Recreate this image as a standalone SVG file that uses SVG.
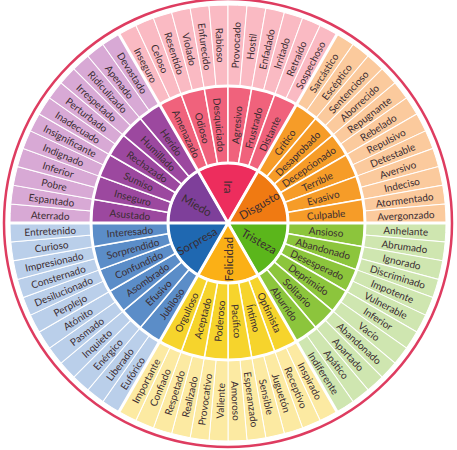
<svg xmlns="http://www.w3.org/2000/svg" width="457" height="450" viewBox="0 0 457 450">
<style>
.ira1{fill:#ED2D5D}.ira2{fill:#F0627C}.ira3{fill:#FABAC3}
.mie1{fill:#7E3F9A}.mie2{fill:#9C489F}.mie3{fill:#D8A9D5}
.dis1{fill:#F07A12}.dis2{fill:#F69C28}.dis3{fill:#FBCA9D}
.tri1{fill:#5BB61B}.tri2{fill:#8CC53C}.tri3{fill:#CFE6B0}
.fel1{fill:#FBB016}.fel2{fill:#F6D42C}.fel3{fill:#FCEAA2}
.sor1{fill:#1F68B1}.sor2{fill:#5B8DC8}.sor3{fill:#BACFEA}
.o use{stroke:#fff;stroke-width:1}
.m use{stroke:#fff;stroke-width:1.5}
.c use{stroke:#fff;stroke-width:2}
text{font-family:Lato,"Open Sans","Liberation Sans",sans-serif;font-size:10px;fill:#3a2c31;text-anchor:middle;dominant-baseline:central}
.c text{font-size:11.5px}
.sep{fill:none;stroke:#fff;stroke-width:3}
</style>
<defs>
<path id="wo" d="M137,0 L218,0 A218,218 0 0 1 217.170,19.000 L136.479,11.940 A137,137 0 0 0 137,0 Z"/>
<path id="wm" d="M60,0 L137,0 A137,137 0 0 1 134.919,23.790 L59.088,10.419 A60,60 0 0 0 60,0 Z"/>
<path id="wc" d="M0,0 L60,0 A60,60 0 0 1 30,51.962 Z"/>
</defs>
<rect width="457" height="450" fill="#fff"/>
<circle cx="228" cy="223" r="224" fill="none" stroke="#DE3C60" stroke-width="2.5"/>
<g transform="translate(228,223)">
<g class="o">
<g id="o-inseguro"><use href="#wo" class="ira3" transform="rotate(240)"/><text transform="rotate(242.5) translate(178,0) rotate(180)">Inseguro</text></g>
<g id="o-celoso"><use href="#wo" class="ira3" transform="rotate(245)"/><text transform="rotate(247.5) translate(178,0) rotate(180)">Celoso</text></g>
<g id="o-resentido"><use href="#wo" class="ira3" transform="rotate(250)"/><text transform="rotate(252.5) translate(178,0) rotate(180)">Resentido</text></g>
<g id="o-violado"><use href="#wo" class="ira3" transform="rotate(255)"/><text transform="rotate(257.5) translate(178,0) rotate(180)">Violado</text></g>
<g id="o-enfurecido"><use href="#wo" class="ira3" transform="rotate(260)"/><text transform="rotate(262.5) translate(178,0) rotate(180)">Enfurecido</text></g>
<g id="o-rabioso"><use href="#wo" class="ira3" transform="rotate(265)"/><text transform="rotate(267.5) translate(178,0) rotate(180)">Rabioso</text></g>
<g id="o-provocado"><use href="#wo" class="ira3" transform="rotate(270)"/><text transform="rotate(272.5) translate(178,0)">Provocado</text></g>
<g id="o-hostil"><use href="#wo" class="ira3" transform="rotate(275)"/><text transform="rotate(277.5) translate(178,0)">Hostil</text></g>
<g id="o-enfadado"><use href="#wo" class="ira3" transform="rotate(280)"/><text transform="rotate(282.5) translate(178,0)">Enfadado</text></g>
<g id="o-irritado"><use href="#wo" class="ira3" transform="rotate(285)"/><text transform="rotate(287.5) translate(178,0)">Irritado</text></g>
<g id="o-retraido"><use href="#wo" class="ira3" transform="rotate(290)"/><text transform="rotate(292.5) translate(178,0)">Retraído</text></g>
<g id="o-sospechoso"><use href="#wo" class="ira3" transform="rotate(295)"/><text transform="rotate(297.5) translate(178,0)">Sospechoso</text></g>
<g id="o-sarcastico"><use href="#wo" class="dis3" transform="rotate(300)"/><text transform="rotate(302.5) translate(178,0)">Sarcástico</text></g>
<g id="o-esceptico"><use href="#wo" class="dis3" transform="rotate(305)"/><text transform="rotate(307.5) translate(178,0)">Escéptico</text></g>
<g id="o-sentencioso"><use href="#wo" class="dis3" transform="rotate(310)"/><text transform="rotate(312.5) translate(178,0)">Sentencioso</text></g>
<g id="o-aborrecido"><use href="#wo" class="dis3" transform="rotate(315)"/><text transform="rotate(317.5) translate(178,0)">Aborrecido</text></g>
<g id="o-repugnante"><use href="#wo" class="dis3" transform="rotate(320)"/><text transform="rotate(322.5) translate(178,0)">Repugnante</text></g>
<g id="o-rebelado"><use href="#wo" class="dis3" transform="rotate(325)"/><text transform="rotate(327.5) translate(178,0)">Rebelado</text></g>
<g id="o-repulsivo"><use href="#wo" class="dis3" transform="rotate(330)"/><text transform="rotate(332.5) translate(178,0)">Repulsivo</text></g>
<g id="o-detestable"><use href="#wo" class="dis3" transform="rotate(335)"/><text transform="rotate(337.5) translate(178,0)">Detestable</text></g>
<g id="o-aversivo"><use href="#wo" class="dis3" transform="rotate(340)"/><text transform="rotate(342.5) translate(178,0)">Aversivo</text></g>
<g id="o-indeciso"><use href="#wo" class="dis3" transform="rotate(345)"/><text transform="rotate(347.5) translate(178,0)">Indeciso</text></g>
<g id="o-atormentado"><use href="#wo" class="dis3" transform="rotate(350)"/><text transform="rotate(352.5) translate(178,0)">Atormentado</text></g>
<g id="o-avergonzado"><use href="#wo" class="dis3" transform="rotate(355)"/><text transform="rotate(357.5) translate(178,0)">Avergonzado</text></g>
<g id="o-anhelante"><use href="#wo" class="tri3" transform="rotate(0)"/><text transform="rotate(2.5) translate(178,0)">Anhelante</text></g>
<g id="o-abrumado"><use href="#wo" class="tri3" transform="rotate(5)"/><text transform="rotate(7.5) translate(178,0)">Abrumado</text></g>
<g id="o-ignorado"><use href="#wo" class="tri3" transform="rotate(10)"/><text transform="rotate(12.5) translate(178,0)">Ignorado</text></g>
<g id="o-discriminado"><use href="#wo" class="tri3" transform="rotate(15)"/><text transform="rotate(17.5) translate(178,0)">Discriminado</text></g>
<g id="o-impotente"><use href="#wo" class="tri3" transform="rotate(20)"/><text transform="rotate(22.5) translate(178,0)">Impotente</text></g>
<g id="o-vulnerable"><use href="#wo" class="tri3" transform="rotate(25)"/><text transform="rotate(27.5) translate(178,0)">Vulnerable</text></g>
<g id="o-inferior-t"><use href="#wo" class="tri3" transform="rotate(30)"/><text transform="rotate(32.5) translate(178,0)">Inferior</text></g>
<g id="o-vacio"><use href="#wo" class="tri3" transform="rotate(35)"/><text transform="rotate(37.5) translate(178,0)">Vacío</text></g>
<g id="o-abandonado"><use href="#wo" class="tri3" transform="rotate(40)"/><text transform="rotate(42.5) translate(178,0)">Abandonado</text></g>
<g id="o-apartado"><use href="#wo" class="tri3" transform="rotate(45)"/><text transform="rotate(47.5) translate(178,0)">Apartado</text></g>
<g id="o-apatico"><use href="#wo" class="tri3" transform="rotate(50)"/><text transform="rotate(52.5) translate(178,0)">Apático</text></g>
<g id="o-indiferente"><use href="#wo" class="tri3" transform="rotate(55)"/><text transform="rotate(57.5) translate(178,0)">Indiferente</text></g>
<g id="o-inspirado"><use href="#wo" class="fel3" transform="rotate(60)"/><text transform="rotate(62.5) translate(178,0)">Inspirado</text></g>
<g id="o-receptivo"><use href="#wo" class="fel3" transform="rotate(65)"/><text transform="rotate(67.5) translate(178,0)">Receptivo</text></g>
<g id="o-jugueton"><use href="#wo" class="fel3" transform="rotate(70)"/><text transform="rotate(72.5) translate(178,0)">Juguetón</text></g>
<g id="o-sensible"><use href="#wo" class="fel3" transform="rotate(75)"/><text transform="rotate(77.5) translate(178,0)">Sensible</text></g>
<g id="o-esperanzado"><use href="#wo" class="fel3" transform="rotate(80)"/><text transform="rotate(82.5) translate(178,0)">Esperanzado</text></g>
<g id="o-amoroso"><use href="#wo" class="fel3" transform="rotate(85)"/><text transform="rotate(87.5) translate(178,0)">Amoroso</text></g>
<g id="o-valiente"><use href="#wo" class="fel3" transform="rotate(90)"/><text transform="rotate(92.5) translate(178,0) rotate(180)">Valiente</text></g>
<g id="o-provocativo"><use href="#wo" class="fel3" transform="rotate(95)"/><text transform="rotate(97.5) translate(178,0) rotate(180)">Provocativo</text></g>
<g id="o-realizado"><use href="#wo" class="fel3" transform="rotate(100)"/><text transform="rotate(102.5) translate(178,0) rotate(180)">Realizado</text></g>
<g id="o-respetado"><use href="#wo" class="fel3" transform="rotate(105)"/><text transform="rotate(107.5) translate(178,0) rotate(180)">Respetado</text></g>
<g id="o-confiado"><use href="#wo" class="fel3" transform="rotate(110)"/><text transform="rotate(112.5) translate(178,0) rotate(180)">Confiado</text></g>
<g id="o-importante"><use href="#wo" class="fel3" transform="rotate(115)"/><text transform="rotate(117.5) translate(178,0) rotate(180)">Importante</text></g>
<g id="o-euforico"><use href="#wo" class="sor3" transform="rotate(120)"/><text transform="rotate(122.5) translate(178,0) rotate(180)">Eufórico</text></g>
<g id="o-liberado"><use href="#wo" class="sor3" transform="rotate(125)"/><text transform="rotate(127.5) translate(178,0) rotate(180)">Liberado</text></g>
<g id="o-energico"><use href="#wo" class="sor3" transform="rotate(130)"/><text transform="rotate(132.5) translate(178,0) rotate(180)">Enérgico</text></g>
<g id="o-inquieto"><use href="#wo" class="sor3" transform="rotate(135)"/><text transform="rotate(137.5) translate(178,0) rotate(180)">Inquieto</text></g>
<g id="o-pasmado"><use href="#wo" class="sor3" transform="rotate(140)"/><text transform="rotate(142.5) translate(178,0) rotate(180)">Pasmado</text></g>
<g id="o-atonito"><use href="#wo" class="sor3" transform="rotate(145)"/><text transform="rotate(147.5) translate(178,0) rotate(180)">Atónito</text></g>
<g id="o-perplejo"><use href="#wo" class="sor3" transform="rotate(150)"/><text transform="rotate(152.5) translate(178,0) rotate(180)">Perplejo</text></g>
<g id="o-desilucionado"><use href="#wo" class="sor3" transform="rotate(155)"/><text transform="rotate(157.5) translate(178,0) rotate(180)">Desilucionado</text></g>
<g id="o-consternado"><use href="#wo" class="sor3" transform="rotate(160)"/><text transform="rotate(162.5) translate(178,0) rotate(180)">Consternado</text></g>
<g id="o-impresionado"><use href="#wo" class="sor3" transform="rotate(165)"/><text transform="rotate(167.5) translate(178,0) rotate(180)">Impresionado</text></g>
<g id="o-curioso"><use href="#wo" class="sor3" transform="rotate(170)"/><text transform="rotate(172.5) translate(178,0) rotate(180)">Curioso</text></g>
<g id="o-entretenido"><use href="#wo" class="sor3" transform="rotate(175)"/><text transform="rotate(177.5) translate(178,0) rotate(180)">Entretenido</text></g>
<g id="o-aterrado"><use href="#wo" class="mie3" transform="rotate(180)"/><text transform="rotate(182.5) translate(178,0) rotate(180)">Aterrado</text></g>
<g id="o-espantado"><use href="#wo" class="mie3" transform="rotate(185)"/><text transform="rotate(187.5) translate(178,0) rotate(180)">Espantado</text></g>
<g id="o-pobre"><use href="#wo" class="mie3" transform="rotate(190)"/><text transform="rotate(192.5) translate(178,0) rotate(180)">Pobre</text></g>
<g id="o-inferior-m"><use href="#wo" class="mie3" transform="rotate(195)"/><text transform="rotate(197.5) translate(178,0) rotate(180)">Inferior</text></g>
<g id="o-indignado"><use href="#wo" class="mie3" transform="rotate(200)"/><text transform="rotate(202.5) translate(178,0) rotate(180)">Indignado</text></g>
<g id="o-insignificante"><use href="#wo" class="mie3" transform="rotate(205)"/><text transform="rotate(207.5) translate(178,0) rotate(180)">Insignificante</text></g>
<g id="o-inadecuado"><use href="#wo" class="mie3" transform="rotate(210)"/><text transform="rotate(212.5) translate(178,0) rotate(180)">Inadecuado</text></g>
<g id="o-perturbado"><use href="#wo" class="mie3" transform="rotate(215)"/><text transform="rotate(217.5) translate(178,0) rotate(180)">Perturbado</text></g>
<g id="o-irrespetado"><use href="#wo" class="mie3" transform="rotate(220)"/><text transform="rotate(222.5) translate(178,0) rotate(180)">Irrespetado</text></g>
<g id="o-ridiculizado"><use href="#wo" class="mie3" transform="rotate(225)"/><text transform="rotate(227.5) translate(178,0) rotate(180)">Ridiculizado</text></g>
<g id="o-apenado"><use href="#wo" class="mie3" transform="rotate(230)"/><text transform="rotate(232.5) translate(178,0) rotate(180)">Apenado</text></g>
<g id="o-devastado"><use href="#wo" class="mie3" transform="rotate(235)"/><text transform="rotate(237.5) translate(178,0) rotate(180)">Devastado</text></g>
</g>
<g class="m">
<g id="m-amenazado"><use href="#wm" class="ira2" transform="rotate(240)"/><text transform="rotate(245) translate(98.5,0) rotate(180)">Amenazado</text></g>
<g id="m-odioso"><use href="#wm" class="ira2" transform="rotate(250)"/><text transform="rotate(255) translate(98.5,0) rotate(180)">Odioso</text></g>
<g id="m-desquiciado"><use href="#wm" class="ira2" transform="rotate(260)"/><text transform="rotate(265) translate(98.5,0) rotate(180)">Desquiciado</text></g>
<g id="m-agresivo"><use href="#wm" class="ira2" transform="rotate(270)"/><text transform="rotate(275) translate(98.5,0)">Agresivo</text></g>
<g id="m-frustrado"><use href="#wm" class="ira2" transform="rotate(280)"/><text transform="rotate(285) translate(98.5,0)">Frustrado</text></g>
<g id="m-distante"><use href="#wm" class="ira2" transform="rotate(290)"/><text transform="rotate(295) translate(98.5,0)">Distante</text></g>
<g id="m-critico"><use href="#wm" class="dis2" transform="rotate(300)"/><text transform="rotate(305) translate(98.5,0)">Crítico</text></g>
<g id="m-desaprobado"><use href="#wm" class="dis2" transform="rotate(310)"/><text transform="rotate(315) translate(98.5,0)">Desaprobado</text></g>
<g id="m-decepcionado"><use href="#wm" class="dis2" transform="rotate(320)"/><text transform="rotate(325) translate(98.5,0)">Decepcionado</text></g>
<g id="m-terrible"><use href="#wm" class="dis2" transform="rotate(330)"/><text transform="rotate(335) translate(98.5,0)">Terrible</text></g>
<g id="m-evasivo"><use href="#wm" class="dis2" transform="rotate(340)"/><text transform="rotate(345) translate(98.5,0)">Evasivo</text></g>
<g id="m-culpable"><use href="#wm" class="dis2" transform="rotate(350)"/><text transform="rotate(355) translate(98.5,0)">Culpable</text></g>
<g id="m-ansioso"><use href="#wm" class="tri2" transform="rotate(0)"/><text transform="rotate(5) translate(98.5,0)">Ansioso</text></g>
<g id="m-abandonado"><use href="#wm" class="tri2" transform="rotate(10)"/><text transform="rotate(15) translate(98.5,0)">Abandonado</text></g>
<g id="m-desesperado"><use href="#wm" class="tri2" transform="rotate(20)"/><text transform="rotate(25) translate(98.5,0)">Desesperado</text></g>
<g id="m-deprimido"><use href="#wm" class="tri2" transform="rotate(30)"/><text transform="rotate(35) translate(98.5,0)">Deprimido</text></g>
<g id="m-solitario"><use href="#wm" class="tri2" transform="rotate(40)"/><text transform="rotate(45) translate(98.5,0)">Solitario</text></g>
<g id="m-aburrido"><use href="#wm" class="tri2" transform="rotate(50)"/><text transform="rotate(55) translate(98.5,0)">Aburrido</text></g>
<g id="m-optimista"><use href="#wm" class="fel2" transform="rotate(60)"/><text transform="rotate(65) translate(98.5,0)">Optimista</text></g>
<g id="m-intimo"><use href="#wm" class="fel2" transform="rotate(70)"/><text transform="rotate(75) translate(98.5,0)">Íntimo</text></g>
<g id="m-pacifico"><use href="#wm" class="fel2" transform="rotate(80)"/><text transform="rotate(85) translate(98.5,0)">Pacífico</text></g>
<g id="m-poderoso"><use href="#wm" class="fel2" transform="rotate(90)"/><text transform="rotate(95) translate(98.5,0) rotate(180)">Poderoso</text></g>
<g id="m-aceptado"><use href="#wm" class="fel2" transform="rotate(100)"/><text transform="rotate(105) translate(98.5,0) rotate(180)">Aceptado</text></g>
<g id="m-orgulloso"><use href="#wm" class="fel2" transform="rotate(110)"/><text transform="rotate(115) translate(98.5,0) rotate(180)">Orgulloso</text></g>
<g id="m-jubiloso"><use href="#wm" class="sor2" transform="rotate(120)"/><text transform="rotate(125) translate(98.5,0) rotate(180)">Jubiloso</text></g>
<g id="m-efusivo"><use href="#wm" class="sor2" transform="rotate(130)"/><text transform="rotate(135) translate(98.5,0) rotate(180)">Efusivo</text></g>
<g id="m-asombrado"><use href="#wm" class="sor2" transform="rotate(140)"/><text transform="rotate(145) translate(98.5,0) rotate(180)">Asombrado</text></g>
<g id="m-confundido"><use href="#wm" class="sor2" transform="rotate(150)"/><text transform="rotate(155) translate(98.5,0) rotate(180)">Confundido</text></g>
<g id="m-sorprendido"><use href="#wm" class="sor2" transform="rotate(160)"/><text transform="rotate(165) translate(98.5,0) rotate(180)">Sorprendido</text></g>
<g id="m-interesado"><use href="#wm" class="sor2" transform="rotate(170)"/><text transform="rotate(175) translate(98.5,0) rotate(180)">Interesado</text></g>
<g id="m-asustado"><use href="#wm" class="mie2" transform="rotate(180)"/><text transform="rotate(185) translate(98.5,0) rotate(180)">Asustado</text></g>
<g id="m-inseguro"><use href="#wm" class="mie2" transform="rotate(190)"/><text transform="rotate(195) translate(98.5,0) rotate(180)">Inseguro</text></g>
<g id="m-sumiso"><use href="#wm" class="mie2" transform="rotate(200)"/><text transform="rotate(205) translate(98.5,0) rotate(180)">Sumiso</text></g>
<g id="m-rechazado"><use href="#wm" class="mie2" transform="rotate(210)"/><text transform="rotate(215) translate(98.5,0) rotate(180)">Rechazado</text></g>
<g id="m-humillado"><use href="#wm" class="mie2" transform="rotate(220)"/><text transform="rotate(225) translate(98.5,0) rotate(180)">Humillado</text></g>
<g id="m-herido"><use href="#wm" class="mie2" transform="rotate(230)"/><text transform="rotate(235) translate(98.5,0) rotate(180)">Herido</text></g>
</g>
<g class="c">
<g id="c-tristeza"><use href="#wc" class="tri1" transform="rotate(0)"/><text transform="rotate(30) translate(36,0)">Tristeza</text></g>
<g id="c-felicidad"><use href="#wc" class="fel1" transform="rotate(60)"/><text transform="rotate(90) translate(36,0) rotate(180)">Felicidad</text></g>
<g id="c-sorpresa"><use href="#wc" class="sor1" transform="rotate(120)"/><text transform="rotate(150) translate(36,0) rotate(180)">Sorpresa</text></g>
<g id="c-miedo"><use href="#wc" class="mie1" transform="rotate(180)"/><text transform="rotate(210) translate(36,0) rotate(180)">Miedo</text></g>
<g id="c-ira"><use href="#wc" class="ira1" transform="rotate(240)"/><text transform="rotate(270) translate(36,0) rotate(180)">Ira</text></g>
<g id="c-disgusto"><use href="#wc" class="dis1" transform="rotate(300)"/><text transform="rotate(330) translate(36,0)">Disgusto</text></g>
</g>
<g id="separators" class="sep">
<circle r="60"/>
<circle r="137"/>
<path d="M-218,0 H218 M0,0 L109,-188.794 M0,0 L-109,-188.794 M0,0 L109,188.794 M0,0 L-109,188.794"/>
</g>
</g>
</svg>
